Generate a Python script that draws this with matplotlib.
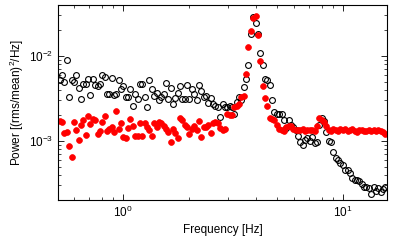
import matplotlib
matplotlib.use('Agg')
import matplotlib.pyplot as plt

plt.rcParams['font.family'] = ['Liberation Sans', 'DejaVu Sans']
plt.rcParams['mathtext.fontset'] = 'custom'
plt.rcParams['mathtext.rm'] = 'Liberation Sans'
plt.rcParams['mathtext.it'] = 'Liberation Sans:italic'

# frequency grid [Hz]
freq = [0.515, 0.528, 0.541, 0.555, 0.568, 0.583, 0.597, 0.612, 0.627, 0.643,
        0.659, 0.676, 0.693, 0.710, 0.728, 0.746, 0.765, 0.784, 0.803, 0.823,
        0.844, 0.865, 0.887, 0.909, 0.932, 0.955, 0.979, 1.003, 1.028, 1.054,
        1.080, 1.107, 1.135, 1.163, 1.193, 1.222, 1.253, 1.284, 1.316, 1.349,
        1.383, 1.418, 1.453, 1.489, 1.527, 1.565, 1.604, 1.644, 1.685, 1.727,
        1.771, 1.815, 1.860, 1.907, 1.954, 2.003, 2.053, 2.105, 2.157, 2.211,
        2.267, 2.323, 2.381, 2.441, 2.502, 2.564, 2.629, 2.694, 2.761, 2.830,
        2.901, 2.974, 3.048, 3.124, 3.202, 3.282, 3.364, 3.449, 3.535, 3.623,
        3.714, 3.807, 3.902, 3.999, 4.099, 4.202, 4.307, 4.414, 4.525, 4.638,
        4.754, 4.873, 4.995, 5.120, 5.248, 5.379, 5.513, 5.651, 5.792, 5.937,
        6.086, 6.238, 6.394, 6.554, 6.717, 6.885, 7.058, 7.234, 7.415, 7.600,
        7.790, 7.985, 8.184, 8.389, 8.599, 8.814, 9.034, 9.260, 9.491, 9.729,
        9.972, 10.22, 10.48, 10.74, 11.01, 11.28, 11.57, 11.85, 12.15, 12.45,
        12.77, 13.09, 13.41, 13.75, 14.09, 14.44, 14.80, 15.17, 15.55]

# open black circles
power_open = [0.0052, 0.0060, 0.0050, 0.0090, 0.0033, 0.0052, 0.0050, 0.0060, 0.0042, 0.0031,
              0.0047, 0.0047, 0.0054, 0.0035, 0.0054, 0.0046, 0.0044, 0.0047, 0.0060, 0.0056,
              0.0036, 0.0036, 0.0055, 0.0035, 0.0036, 0.0052, 0.0041, 0.0044, 0.0033, 0.0033,
              0.0041, 0.0026, 0.0036, 0.0031, 0.0047, 0.0047, 0.0033, 0.0025, 0.0052, 0.0041,
              0.0034, 0.0037, 0.0030, 0.0033, 0.0036, 0.0048, 0.0031, 0.0042, 0.0027, 0.0032,
              0.0037, 0.0044, 0.0031, 0.0031, 0.0045, 0.0031, 0.0041, 0.0036, 0.0030, 0.0045,
              0.0039, 0.0033, 0.0034, 0.0028, 0.0032, 0.0027, 0.0026, 0.0025, 0.0019, 0.0027,
              0.0025, 0.0025, 0.0026, 0.0025, 0.0021, 0.0029, 0.0033, 0.0030, 0.0043, 0.0053,
              0.0078, 0.0180, 0.0285, 0.0243, 0.0180, 0.0108, 0.0078, 0.0054, 0.0052, 0.0046,
              0.0030, 0.0022, 0.0021, 0.0021, 0.0021, 0.00177, 0.00142, 0.00177, 0.00154, 0.00146,
              0.00135, 0.00115, 0.00097, 0.00090, 0.00103, 0.00107, 0.00100, 0.00111, 0.00094, 0.00096,
              0.00154, 0.00188, 0.00172, 0.00129, 0.00100, 0.00098, 0.00075, 0.00063, 0.00060, 0.00055,
              0.00052, 0.00046, 0.00046, 0.00042, 0.00037, 0.00035, 0.00035, 0.00034, 0.00031, 0.00029,
              0.00029, 0.00028, 0.00024, 0.00029, 0.00026, 0.00028, 0.00025, 0.00027, 0.00029]

# filled red circles
power_filled = [0.00173, 0.00168, 0.00125, 0.00128, 0.00087, 0.00065, 0.00166, 0.00135, 0.00103, 0.00154,
                0.00177, 0.00118, 0.00194, 0.00159, 0.00181, 0.00177, 0.00122, 0.00132, 0.00168, 0.00197,
                0.00132, 0.00137, 0.00145, 0.00128, 0.00227, 0.00137, 0.00164, 0.00110, 0.00107, 0.00141,
                0.00180, 0.00151, 0.00115, 0.00113, 0.00164, 0.00113, 0.00164, 0.00145, 0.00135, 0.00113,
                0.00164, 0.00145, 0.00168, 0.00164, 0.00148, 0.00137, 0.00128, 0.00098, 0.00137, 0.00123,
                0.00108, 0.00185, 0.00177, 0.00154, 0.00145, 0.00122, 0.00137, 0.00148, 0.00135, 0.00173,
                0.00112, 0.00145, 0.00147, 0.00154, 0.00123, 0.00163, 0.00168, 0.00164, 0.00141, 0.00135,
                0.00140, 0.0021, 0.0020, 0.0020, 0.0025, 0.0026, 0.0027, 0.0033, 0.0034, 0.0061,
                0.0129, 0.0198, 0.0278, 0.0298, 0.0177, 0.0088, 0.0044, 0.0032, 0.0026, 0.00185,
                0.0018, 0.00174, 0.00154, 0.00140, 0.00135, 0.00132, 0.00145, 0.00150, 0.00148, 0.00138,
                0.00133, 0.00133, 0.00136, 0.00138, 0.00132, 0.00134, 0.00133, 0.00135, 0.00131, 0.00150,
                0.00186, 0.00178, 0.00168, 0.00150, 0.00133, 0.00130, 0.00140, 0.00134, 0.00130, 0.00137,
                0.00133, 0.00138, 0.00131, 0.00135, 0.00137, 0.00131, 0.00128, 0.00133, 0.00136, 0.00130,
                0.00132, 0.00134, 0.00131, 0.00134, 0.00132, 0.00135, 0.00130, 0.00127, 0.00122]

fig = plt.figure(figsize=(3.95, 2.46), dpi=100)
ax = fig.add_axes([0.147, 0.187, 0.833, 0.793])

ax.loglog(freq, power_open, 'o', mfc='none', mec='black', ms=4.2, mew=0.8)
ax.loglog(freq, power_filled, 'o', mfc='red', mec='red', ms=4.2, mew=0.5)

ax.set_xlim(0.506, 15.85)
ax.set_ylim(2.02e-4, 0.0398)

ax.tick_params(which='both', direction='in', top=True, right=True, labelsize=8.5)
ax.tick_params(which='major', length=4, width=0.6)
ax.tick_params(which='minor', length=2, width=0.5)
for s in ax.spines.values():
    s.set_linewidth(0.8)

ax.set_xlabel('Frequency [Hz]', fontsize=8.5, labelpad=3)
ax.set_ylabel('Power [(rms/mean)$^2$/Hz]', fontsize=8.5, labelpad=2)

fig.savefig('out.png', dpi=100)
